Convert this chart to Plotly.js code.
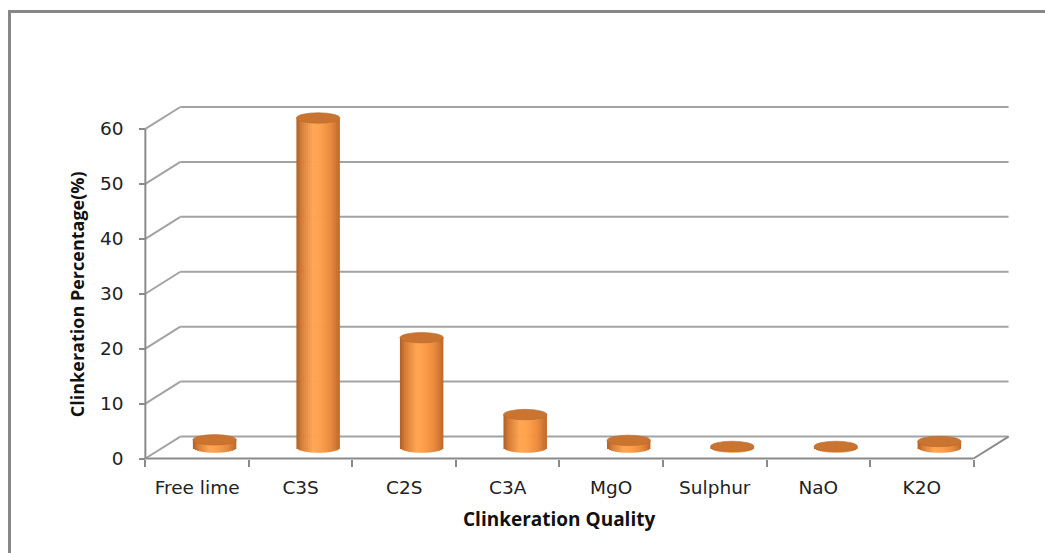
<!DOCTYPE html>
<html>
<head>
<meta charset="utf-8">
<script src="https://cdn.plot.ly/plotly-3.0.1.min.js"></script>
<style>
  html, body { margin: 0; padding: 0; background: #ffffff; }
  #chart { width: 1045px; height: 553px; position: absolute; left: 0; top: 0; }
  #frame { position: absolute; left: 8px; top: 10px; width: 1200px; height: 700px;
           border-left: 3px solid #878787; border-top: 3px solid #878787; pointer-events: none; }
</style>
</head>
<body>
<div id="chart"></div>
<div id="frame"></div>
<script>
// ---- data ----
const categories = ['Free lime', 'C3S', 'C2S', 'C3A', 'MgO', 'Sulphur', 'NaO', 'K2O'];
const values = [1.4, 60, 20, 6, 1.3, 0.2, 0.2, 1.1];
const yTicks = [0, 10, 20, 30, 40, 50, 60];
const xTitle = 'Clinkeration Quality';
const yTitle = 'Clinkeration Percentage(%)';

// ---- style ----
const DX = 0.338;      // depth offset in category units
const DY = 4;          // depth offset in value units
const BAR_W = 0.42;    // cylinder width in category units
const ELL_B = 0.95;    // ellipse half-height in value units
const N = 22;          // shading slices
const gridColor = '#a3a3a3';
const axisColor = '#8a8a8a';

const stops = [
  [0.00, [172, 96, 40]],
  [0.12, [214, 124, 54]],
  [0.38, [255, 166, 82]],
  [0.55, [253, 160, 76]],
  [0.80, [232, 137, 60]],
  [1.00, [188, 105, 44]]
];
function grad(t) {
  for (let i = 1; i < stops.length; i++) {
    if (t <= stops[i][0]) {
      const a = stops[i - 1], b = stops[i];
      const f = (t - a[0]) / (b[0] - a[0]);
      const c = a[1].map((v, j) => Math.round(v + (b[1][j] - v) * f));
      return 'rgb(' + c.join(',') + ')';
    }
  }
  return 'rgb(' + stops[stops.length - 1][1].join(',') + ')';
}

// ---- cylinder bodies: vertical slices drawn as bars ----
const traces = [];
for (let k = 0; k < N; k++) {
  const t = (k + 0.5) / N;
  const u = 2 * t - 1;
  const curve = ELL_B * Math.sqrt(Math.max(0, 1 - u * u));
  const sw = BAR_W / N;
  traces.push({
    type: 'bar',
    x: categories,
    y: values.map(v => v + curve),
    base: DY / 2 - curve,
    offset: DX / 2 - BAR_W / 2 + k * sw,
    width: k === N - 1 ? sw : sw * 1.3,
    marker: { color: grad(t), line: { width: 0 } },
    hoverinfo: 'skip',
    showlegend: false
  });
}

// ---- 3D frame as shapes ----
const shapes = [];
const L = -0.5, R = categories.length - 0.5;
yTicks.forEach(v => {
  shapes.push({ type: 'line', xref: 'x', yref: 'y', layer: 'below',
    x0: L + DX, x1: R + DX, y0: v + DY, y1: v + DY, line: { color: gridColor, width: 2 } });
  shapes.push({ type: 'line', xref: 'x', yref: 'y', layer: 'below',
    x0: L, x1: L + DX, y0: v, y1: v + DY, line: { color: gridColor, width: 2 } });
});
// floor front edge & right side
shapes.push({ type: 'line', xref: 'x', yref: 'y', layer: 'below',
  x0: L, x1: R, y0: 0, y1: 0, line: { color: axisColor, width: 2 } });
shapes.push({ type: 'line', xref: 'x', yref: 'y', layer: 'below',
  x0: R, x1: R + DX, y0: 0, y1: DY, line: { color: axisColor, width: 2 } });
// front value axis
shapes.push({ type: 'line', xref: 'x', yref: 'y', layer: 'below',
  x0: L, x1: L, y0: 0, y1: yTicks[yTicks.length - 1], line: { color: axisColor, width: 2 } });
// cylinder tops
values.forEach((v, i) => {
  const cx = i + DX / 2;
  const top = v + DY / 2;
  shapes.push({ type: 'circle', xref: 'x', yref: 'y', layer: 'above',
    x0: cx - BAR_W / 2, x1: cx + BAR_W / 2, y0: top - ELL_B, y1: top + ELL_B,
    fillcolor: 'rgb(201,116,48)', line: { color: 'rgb(186,104,42)', width: 0.6 } });
});

const xMin = -0.6, xMax = 7.9, yMin = -1, yMax = 66;
const layout = {
  width: 1045, height: 553,
  margin: { l: 134.6, r: 29.8, t: 95.5, b: 88.5, pad: 0 },
  paper_bgcolor: 'rgba(0,0,0,0)', plot_bgcolor: 'rgba(0,0,0,0)',
  barmode: 'overlay',
  showlegend: false,
  font: { family: 'DejaVu Sans', color: '#222222', size: 18 },
  xaxis: {
    type: 'category', range: [xMin, xMax],
    anchor: 'free', position: (0 - yMin) / (yMax - yMin),
    tickson: 'boundaries', ticks: 'outside', ticklen: 7, tickwidth: 2, tickcolor: axisColor,
    showgrid: false, zeroline: false, showline: false,
    ticklabelstandoff: 16,
    tickfont: { family: 'DejaVu Sans', size: 18.5, color: '#222222' }
  },
  yaxis: {
    range: [yMin, yMax],
    anchor: 'free', position: (-0.5 - xMin) / (xMax - xMin),
    tickmode: 'array', tickvals: yTicks,
    ticks: 'outside', ticklen: 6, tickwidth: 2, tickcolor: axisColor,
    showgrid: false, zeroline: false, showline: false,
    ticklabelstandoff: 12,
    tickfont: { family: 'DejaVu Sans', size: 18.5, color: '#222222' }
  },
  shapes: shapes,
  annotations: [
    { text: '<b>' + xTitle + '</b>', xref: 'x', yref: 'paper',
      x: (categories.length - 1) / 2, y: -0.150, xanchor: 'center', yanchor: 'middle',
      showarrow: false, font: { family: 'Open Sans', size: 19, color: '#111111' } },
    { text: '<b>' + yTitle + '</b>', xref: 'paper', yref: 'y',
      x: (76 - 134.6) / 880.6, y: 30, xanchor: 'center', yanchor: 'middle', textangle: -90,
      showarrow: false, font: { family: 'Open Sans', size: 18, color: '#111111' } }
  ]
};

Plotly.newPlot('chart', traces, layout, { staticPlot: true, displayModeBar: false });
</script>
</body>
</html>
